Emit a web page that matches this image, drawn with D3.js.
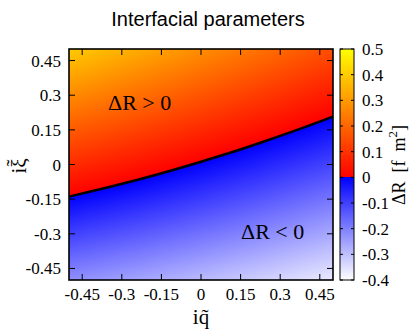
<!DOCTYPE html>
<html><head><meta charset="utf-8">
<script src="https://cdn.jsdelivr.net/npm/d3@7"></script>
<style>body{margin:0;background:#fff}svg{display:block}</style>
</head><body>
<script>
// ---- data ----
const qGrid = [-0.5, -0.25, 0, 0.25, 0.5];
const xiGrid = [0.5, 0.375, 0.25, 0.125, 0, -0.125, -0.25, -0.375, -0.5];
// deltaR[row = xi][col = q]
const deltaR = [
  [0.396, 0.339, 0.278, 0.216, 0.152],
  [0.319, 0.264, 0.207, 0.148, 0.087],
  [0.241, 0.190, 0.136, 0.080, 0.022],
  [0.164, 0.115, 0.064, 0.011, -0.043],
  [0.086, 0.041, -0.007, -0.057, -0.108],
  [0.009, -0.033, -0.078, -0.125, -0.173],
  [-0.069, -0.108, -0.149, -0.193, -0.238],
  [-0.146, -0.182, -0.221, -0.261, -0.303],
  [-0.224, -0.256, -0.292, -0.329, -0.368]
];
const boundaryQ = [-0.5, -0.375, -0.25, -0.125, 0, 0.125, 0.25, 0.375, 0.5];
const boundaryXi = [-0.139, -0.105, -0.069, -0.030, 0.012, 0.056, 0.104, 0.154, 0.207];
const axisTicks = [-0.45, -0.3, -0.15, 0, 0.15, 0.3, 0.45];
const axisTickLabels = ["-0.45", "-0.3", "-0.15", "0", "0.15", "0.3", "0.45"];
const cbTicks = [0.5, 0.4, 0.3, 0.2, 0.1, 0, -0.1, -0.2, -0.3, -0.4];
const cbTickLabels = ["0.5", "0.4", "0.3", "0.2", "0.1", "0", "-0.1", "-0.2", "-0.3", "-0.4"];
const titleText = "Interfacial parameters";

// ---- layout ----
const W = 410, H = 333;
const L = 69, R = 333, T = 49, B = 280;
const cbL = 340, cbR = 354;

const x = d3.scaleLinear().domain([-0.5, 0.5]).range([L, R]);
const y = d3.scaleLinear().domain([-0.5, 0.5]).range([B, T]);
const cbY = d3.scaleLinear().domain([-0.4, 0.5]).range([B, T]);

const posC = d3.interpolateRgb("#ff0000", "#ffff00");
const negC = d3.interpolateRgb("#0000ff", "#ffffff");
const color = v => v >= 0 ? posC(Math.min(v / 0.5, 1)) : negC(Math.min(-v / 0.4, 1));

const svg = d3.select("body").append("svg").attr("width", W).attr("height", H)
  .attr("font-family", "'Liberation Serif', serif");

// heatmap via bilinear sampling of the read grid
const qi = d3.scaleLinear().domain(qGrid).range(d3.range(qGrid.length)).clamp(true);
const xii = d3.scaleLinear().domain(xiGrid.slice().reverse()).range(d3.range(xiGrid.length).reverse()).clamp(true);
function sample(q, xi) {
  const fc = qi(q), fr = xii(xi);
  const c0 = Math.min(Math.floor(fc), qGrid.length - 2), r0 = Math.min(Math.floor(fr), xiGrid.length - 2);
  const tc = fc - c0, tr = fr - r0;
  const a = deltaR[r0][c0], b = deltaR[r0][c0 + 1], c = deltaR[r0 + 1][c0], d = deltaR[r0 + 1][c0 + 1];
  return (a * (1 - tc) + b * tc) * (1 - tr) + (c * (1 - tc) + d * tc) * tr;
}
const pw = R - L, ph = B - T;
const cv = document.createElement("canvas");
cv.width = pw; cv.height = ph;
const ctx = cv.getContext("2d");
const img = ctx.createImageData(pw, ph);
for (let j = 0; j < ph; j++) {
  for (let i = 0; i < pw; i++) {
    const v = sample(x.invert(L + i + 0.5), y.invert(T + j + 0.5));
    const c = d3.rgb(color(v));
    const k = (j * pw + i) * 4;
    img.data[k] = c.r; img.data[k + 1] = c.g; img.data[k + 2] = c.b; img.data[k + 3] = 255;
  }
}
ctx.putImageData(img, 0, 0);
svg.append("image").attr("x", L).attr("y", T).attr("width", pw).attr("height", ph)
  .attr("preserveAspectRatio", "none").attr("href", cv.toDataURL());

// boundary line
const line = d3.line().x(d => x(d[0])).y(d => y(d[1])).curve(d3.curveMonotoneX);
svg.append("path").datum(boundaryQ.map((q, i) => [q, boundaryXi[i]]))
  .attr("d", line).attr("fill", "none").attr("stroke", "#000").attr("stroke-width", 2.5);

// frame + inward ticks
svg.append("rect").attr("x", L).attr("y", T).attr("width", pw).attr("height", ph)
  .attr("fill", "none").attr("stroke", "#000").attr("stroke-width", 1.6);
const tl = 6;
const tk = svg.append("g").attr("stroke", "#000").attr("stroke-width", 1);
axisTicks.forEach(t => {
  tk.append("line").attr("x1", x(t)).attr("x2", x(t)).attr("y1", B).attr("y2", B - tl);
  tk.append("line").attr("x1", x(t)).attr("x2", x(t)).attr("y1", T).attr("y2", T + tl);
  tk.append("line").attr("y1", y(t)).attr("y2", y(t)).attr("x1", L).attr("x2", L + tl);
  tk.append("line").attr("y1", y(t)).attr("y2", y(t)).attr("x1", R).attr("x2", R - tl);
});
axisTicks.forEach((t, i) => {
  svg.append("text").attr("x", x(t)).attr("y", 300).attr("text-anchor", "middle")
    .attr("font-size", 17).text(axisTickLabels[i]);
  svg.append("text").attr("x", 61).attr("y", y(t) + 6).attr("text-anchor", "end")
    .attr("font-size", 17).text(axisTickLabels[i]);
});

// axis labels
svg.append("text").attr("x", 201).attr("y", 324).attr("text-anchor", "middle")
  .attr("font-size", 21).text("iq\u0303");
const yl = svg.append("g").attr("transform", "translate(26,166) rotate(-90)");
yl.append("text").attr("x", 0).attr("y", 0).attr("text-anchor", "middle")
  .attr("font-size", 21).text("i\u03be");
yl.append("text").attr("x", 3).attr("y", -5).attr("text-anchor", "middle")
  .attr("font-size", 21).text("\u02dc");

// annotations
svg.append("text").attr("x", 108).attr("y", 110).attr("font-size", 22).style("white-space", "pre").text("\u0394R > 0");
svg.append("text").attr("x", 241).attr("y", 239).attr("font-size", 22).style("white-space", "pre").text("\u0394R < 0");

// title
svg.append("text").attr("x", 208).attr("y", 26).attr("text-anchor", "middle")
  .attr("font-family", "'Liberation Sans', Arial, sans-serif").attr("font-size", 20).text(titleText);

// colorbar
const cb = svg.append("g");
for (let py = T; py < B; py++) {
  cb.append("rect").attr("x", cbL).attr("y", py).attr("width", cbR - cbL).attr("height", 1.2)
    .attr("fill", color(cbY.invert(py + 0.5)));
}
cb.append("rect").attr("x", cbL).attr("y", T).attr("width", cbR - cbL).attr("height", ph)
  .attr("fill", "none").attr("stroke", "#000").attr("stroke-width", 1);
cbTicks.forEach((t, i) => {
  cb.append("line").attr("x1", cbL).attr("x2", cbL + 3).attr("y1", cbY(t)).attr("y2", cbY(t)).attr("stroke", "#000");
  cb.append("line").attr("x1", cbR).attr("x2", cbR - 3).attr("y1", cbY(t)).attr("y2", cbY(t)).attr("stroke", "#000");
  cb.append("text").attr("x", 362).attr("y", cbY(t) + 6).attr("font-size", 17).text(cbTickLabels[i]);
});
const cl = svg.append("text").attr("transform", "translate(405,165) rotate(-90)").attr("text-anchor", "middle")
  .attr("font-size", 18).style("white-space", "pre");
cl.append("tspan").text("\u0394R  [f  m");
cl.append("tspan").attr("font-size", 13).attr("dy", -8).text("2");
cl.append("tspan").attr("dy", 8).text("]");
</script>
</body></html>
